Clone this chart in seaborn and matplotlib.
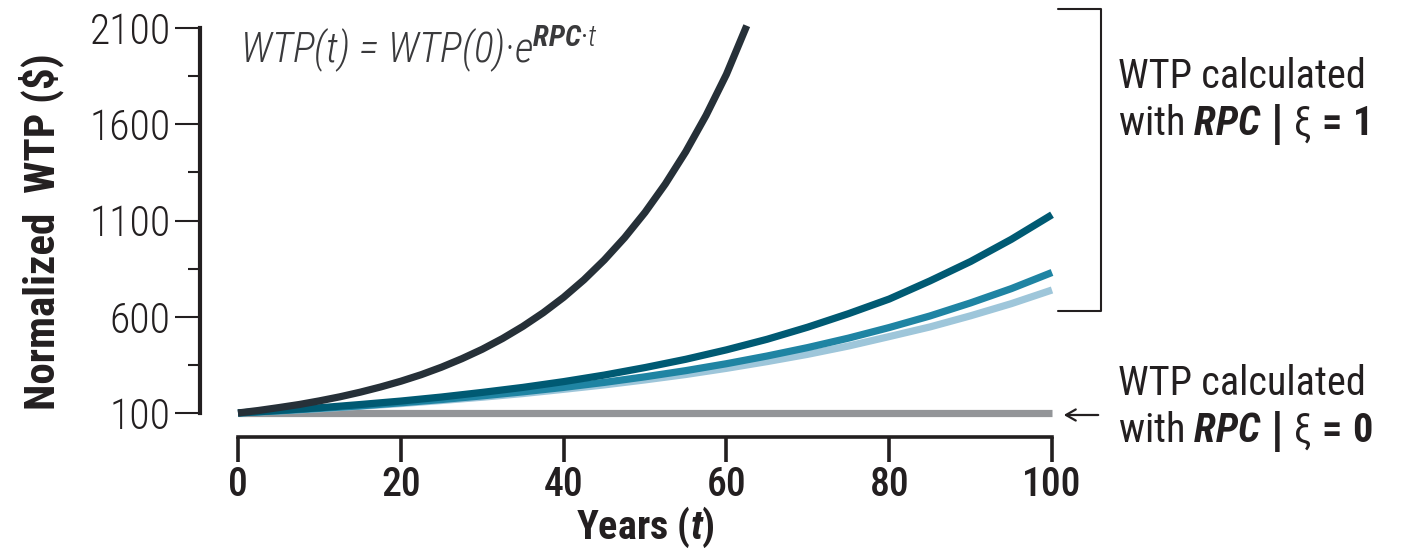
import numpy as np
import pandas as pd
import matplotlib.pyplot as plt
import seaborn as sns
from matplotlib.lines import Line2D
from matplotlib import font_manager as fm

# WTP paths (normalized so WTP(0) = 100)
years = [0, 5, 10, 15, 20, 25, 30, 35, 40, 45, 50,
         55, 60, 65, 70, 75, 80, 85, 90, 95, 100]
years_fast = [0, 2.5, 5, 7.5, 10, 12.5, 15, 17.5, 20, 22.5, 25, 27.5, 30,
              32.5, 35, 37.5, 40, 42.5, 45, 47.5, 50, 52.5, 55, 57.5, 60, 62.5]

wtp_fast = [100, 113, 128, 144, 163, 184, 208, 235, 265, 299, 338, 382, 431,
            487, 550, 621, 701, 792, 895, 1011, 1142, 1290, 1457, 1646, 1859, 2112]
wtp_high = [100, 113, 127, 144, 162, 183, 207, 233, 263, 297, 336,
            379, 428, 483, 546, 616, 692, 786, 887, 1002, 1130]
wtp_mid = [100, 111, 124, 137, 153, 170, 189, 210, 233, 259, 288,
           320, 356, 396, 440, 489, 544, 604, 672, 746, 830]
wtp_low = [100, 111, 122, 135, 149, 165, 182, 201, 223, 246, 272,
           300, 332, 367, 405, 448, 497, 547, 605, 668, 739]
wtp_zero = [100] * len(years)

series_order = ['xi0', 'low', 'mid', 'high', 'fast']
colors = {'xi0': '#939598', 'low': '#9ec6da', 'mid': '#1f84a3',
          'high': '#005a73', 'fast': '#263038'}

yticks = [100, 600, 1100, 1600, 2100]
yticks_minor = [350, 850, 1350, 1850]
xticks = [0, 20, 40, 60, 80, 100]

frames = [
    pd.DataFrame({'Years': years, 'WTP': wtp_zero, 'Series': 'xi0'}),
    pd.DataFrame({'Years': years, 'WTP': wtp_low, 'Series': 'low'}),
    pd.DataFrame({'Years': years, 'WTP': wtp_mid, 'Series': 'mid'}),
    pd.DataFrame({'Years': years, 'WTP': wtp_high, 'Series': 'high'}),
    pd.DataFrame({'Years': years_fast, 'WTP': wtp_fast, 'Series': 'fast'}),
]
df = pd.concat(frames, ignore_index=True)

# pick a narrow face if one is around, else Roboto
installed = {f.name for f in fm.fontManager.ttflist}
face = 'Roboto'
for cand in ['Roboto Condensed', 'Liberation Sans Narrow']:
    if cand in installed:
        face = cand
        break

sns.set_style('white')
plt.rcParams['font.family'] = [face, 'DejaVu Sans']
plt.rcParams['mathtext.fontset'] = 'custom'
plt.rcParams['mathtext.rm'] = face
plt.rcParams['mathtext.it'] = face + ':italic:light'
plt.rcParams['mathtext.bf'] = face + ':bold'
plt.rcParams['mathtext.bfit'] = face + ':italic:bold'
plt.rcParams['mathtext.sf'] = 'DejaVu Sans:bold'
ink = '#231f20'

fig = plt.figure(figsize=(14.12, 5.52), dpi=100)
ax = fig.add_axes([238 / 1412, 1 - 413 / 552, 814 / 1412, 385 / 552])

sns.lineplot(data=df, x='Years', y='WTP', hue='Series', hue_order=series_order,
             palette=colors, linewidth=5.2, legend=False, estimator=None,
             ax=ax, clip_on=False, solid_capstyle='butt', solid_joinstyle='round')

ax.set_xlim(0, 100)
ax.set_ylim(100, 2100)

for s in ['top', 'right']:
    ax.spines[s].set_visible(False)
ax.spines['left'].set_position(('outward', 27.4))
ax.spines['bottom'].set_position(('outward', 17.3))
ax.spines['left'].set_linewidth(3)
ax.spines['bottom'].set_linewidth(2.6)
ax.spines['left'].set_color(ink)
ax.spines['bottom'].set_color(ink)

ax.set_yticks(yticks)
ax.set_yticks(yticks_minor, minor=True)
ax.set_xticks(xticks)
ax.tick_params(axis='y', which='major', direction='out', length=18, width=1.5,
               color=ink, labelsize=30, labelcolor=ink, pad=3)
ax.tick_params(axis='y', which='minor', direction='out', length=9, width=1.5, color=ink)
ax.tick_params(axis='x', direction='out', length=18, width=2.6, color=ink,
               labelsize=28.5, labelcolor=ink, pad=3)
ax.tick_params(left=True, bottom=True)
ax.tick_params(axis='y', which='minor', left=True)
for lab in ax.get_yticklabels():
    lab.set_fontweight('light')
for lab in ax.get_xticklabels():
    lab.set_fontweight('medium')

ax.set_xlabel('Years ($\\mathbfit{t}$)', fontsize=29, fontweight='bold', color=ink)
ax.set_ylabel('Normalized  WTP ($)', fontsize=31, fontweight='bold', color=ink)
ax.xaxis.set_label_coords(0.5, -0.238)
ax.yaxis.set_label_coords(-0.214, 0.47)

ax.text(0.0025, 0.912,
        'WTP(t) = WTP(0)·e$^{\\mathbfit{RPC}\\mathit{·t}}$',
        transform=ax.transAxes, fontsize=30, color='#3a3a3c', va='baseline',
        ha='left', fontweight='light', style='italic')

# bracket for the xi = 1 group
fig.add_artist(Line2D([1058 / 1412, 1101 / 1412, 1101 / 1412, 1058 / 1412],
                      [1 - 9 / 552, 1 - 9 / 552, 1 - 311 / 552, 1 - 311 / 552],
                      transform=fig.transFigure, color=ink, lw=1.5))
# arrow to the xi = 0 line
ax.annotate('', xy=(1061, 552 - 415), xytext=(1101, 552 - 415),
            xycoords='figure pixels', textcoords='figure pixels',
            arrowprops=dict(arrowstyle='->,head_length=0.7,head_width=0.4',
                            color=ink, lw=1.6))

tx = 1118 / 1412
fig.text(tx, 1 - 88 / 552, 'WTP calculated', fontsize=29, color=ink, va='baseline')
fig.text(tx, 1 - 135 / 552, 'with $\\mathbfit{RPC}$ $\\mathsf{|}$ ξ$\\mathbf{\\,{=}\\,1}$',
         fontsize=29, color=ink, va='baseline')
fig.text(tx, 1 - 395 / 552, 'WTP calculated', fontsize=29, color=ink, va='baseline')
fig.text(tx, 1 - 442 / 552, 'with $\\mathbfit{RPC}$ $\\mathsf{|}$ ξ$\\mathbf{\\,{=}\\,0}$',
         fontsize=29, color=ink, va='baseline')

fig.savefig('out.png', dpi=100)
